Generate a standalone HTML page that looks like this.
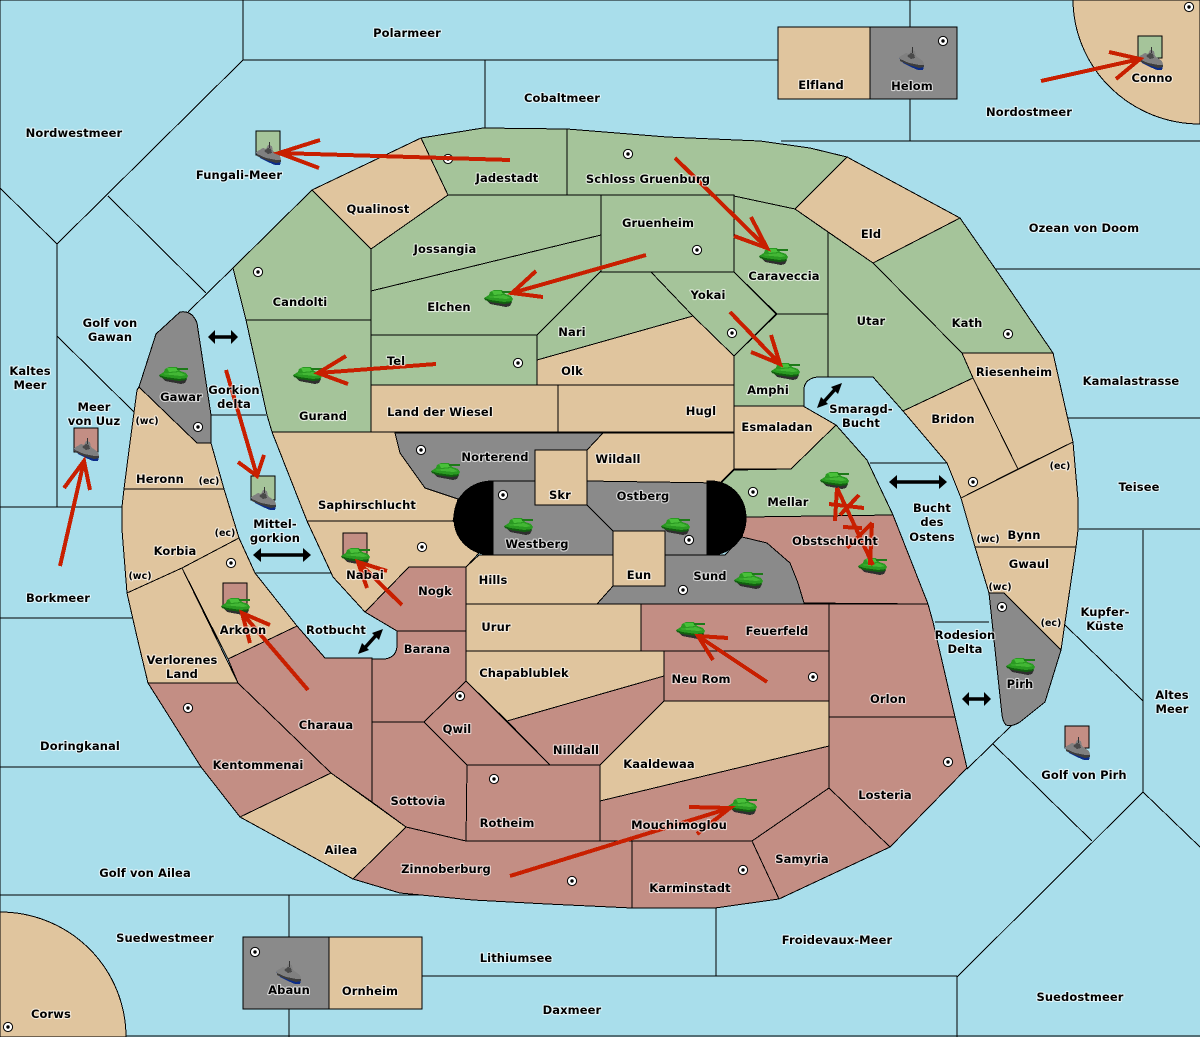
<!DOCTYPE html>
<html><head><meta charset="utf-8"><style>
html,body{margin:0;padding:0;background:#a9deeb}
svg{display:block}
.l polygon,.l path{stroke:#000;stroke-width:1;shape-rendering:crispEdges}
.g{fill:#a5c49a}.b{fill:#e0c59e}.r{fill:#c38e84}.k{fill:#8a8a8a}
.s line{stroke:#000;stroke-width:1;shape-rendering:crispEdges}
.t text{font-family:"DejaVu Sans","Liberation Sans",sans-serif;font-size:11.5px;font-weight:700;letter-spacing:.1px;text-anchor:middle;fill:#000;stroke:rgba(255,255,255,.65);stroke-width:2.2px;paint-order:stroke;stroke-linejoin:round}
.t .sm{font-size:9.5px;letter-spacing:0}
.a path{fill:none;stroke:#c81f00;stroke-width:4;shape-rendering:crispEdges}
.d path{fill:none;stroke:#000;stroke-width:3.5}
.d polygon{fill:#000}
</style></head><body>
<svg width="1200" height="1037" viewBox="0 0 1200 1037" xmlns="http://www.w3.org/2000/svg">
<defs>
<g id="tank" shape-rendering="crispEdges">
<polygon points="1,10 6,15 22,18 26,17 28,13 20,10" fill="#2f2f2f"/>
<polygon points="0,9 5,6 6,3 10,1 18,1 21,5 27,7 29,10 27,14 20,14 6,12" fill="#2a9a22"/>
<polygon points="8,2 17,2 19,5 10,6" fill="#49c03a"/>
<polygon points="3,8 20,6 27,9 22,10" fill="#43b735"/>
<polygon points="0,9 6,11 20,13 28,12 27,14 20,15 6,13 1,11" fill="#126010"/>
<rect x="18" y="2" width="11" height="2" fill="#1d7a18"/>
</g>
<g id="ship" shape-rendering="crispEdges">
<polygon points="0,11 4,16 12,20 19,23 24,23 25,19" fill="#0b2c88"/>
<polygon points="0,10 7,6 10,7 12,3 16,4 17,9 24,14 25,17 25,20 20,20 10,18 1,13" fill="#808080"/>
<polygon points="8,9 12,6 15,7 16,11 12,12" fill="#4a4a4a"/>
<polygon points="1,12 10,16 20,18 25,18 25,20 20,21 10,18 1,14" fill="#3d3d3d"/>
<rect x="13" y="0" width="1" height="6" fill="#333"/>
</g>
<g id="sc"><circle r="4.6" fill="#fff" stroke="#000" stroke-width="1"/><circle r="1.7" fill="#000"/></g>
</defs>
<rect width="1200" height="1037" fill="#a9deeb"/>
<g class="s">
<line x1="0" y1="0" x2="1200" y2="0"/><line x1="0" y1="0" x2="0" y2="1037"/><line x1="0" y1="1036" x2="1200" y2="1036"/>
<line x1="243" y1="0" x2="243" y2="60"/><line x1="243" y1="60" x2="778" y2="60"/><line x1="243" y1="60" x2="57" y2="244"/>
<line x1="485" y1="60" x2="485" y2="128"/><line x1="910" y1="0" x2="910" y2="27"/><line x1="910" y1="99" x2="910" y2="141"/>
<line x1="781" y1="141" x2="1200" y2="141"/><line x1="0" y1="188" x2="57" y2="244"/><line x1="57" y1="244" x2="57" y2="507"/>
<line x1="57" y1="336" x2="135" y2="413"/><line x1="108" y1="196" x2="206" y2="293"/><line x1="233" y1="268" x2="188" y2="312"/>
<line x1="211" y1="415" x2="266" y2="415"/><line x1="255" y1="573" x2="331" y2="573"/>
<line x1="0" y1="507" x2="122" y2="507"/><line x1="0" y1="618" x2="132" y2="618"/><line x1="0" y1="767" x2="201" y2="767"/><line x1="0" y1="895" x2="419" y2="895"/>
<line x1="289" y1="895" x2="289" y2="937"/><line x1="289" y1="1009" x2="289" y2="1037"/>
<line x1="422" y1="976" x2="957" y2="976"/><line x1="716" y1="908" x2="716" y2="976"/><line x1="957" y1="976" x2="957" y2="1037"/>
<line x1="957" y1="977" x2="1143" y2="792"/><line x1="993" y1="744" x2="1092" y2="841"/><line x1="967" y1="769" x2="1012" y2="725"/>
<line x1="1143" y1="530" x2="1143" y2="792"/><line x1="1143" y1="792" x2="1200" y2="847"/><line x1="1065" y1="625" x2="1143" y2="701"/>
<line x1="995" y1="269" x2="1200" y2="269"/><line x1="1068" y1="418" x2="1200" y2="418"/><line x1="1079" y1="529" x2="1200" y2="529"/>
<line x1="870" y1="463" x2="947" y2="463"/><line x1="935" y1="622" x2="989" y2="622"/>
</g>
<g class="l">
<path class="b" d="M1073 0A127 125 0 0 0 1200 124V0Z"/>
<path class="b" d="M0 912A126 125 0 0 1 126 1037H0Z"/>
<polygon class="b" points="778,27 870,27 870,99 778,99"/>
<polygon class="k" points="870,27 957,27 957,99 870,99"/>
<polygon class="k" points="243,937 329,937 329,1009 243,1009"/>
<polygon class="b" points="329,937 422,937 422,1009 329,1009"/>
<polygon class="g" points="233,268 312,190 371,249 371,320 246,320"/>
<polygon class="g" points="246,320 371,320 371,432 272,432 267,415"/>
<polygon class="b" points="312,190 421,138 448,195 371,249"/>
<polygon class="g" points="421,138 483,128 567,129 567,195 448,195"/>
<polygon class="g" points="567,129 667,137 760,141 810,148 847,157 795,209 734,196 734,195 567,195"/>
<polygon class="b" points="847,157 960,218 873,263 795,209"/>
<polygon class="g" points="873,263 960,218 1010,290 1053,353 962,353"/>
<polygon class="g" points="828,232 873,263 962,353 973,378 903,411 873,377 828,377"/>
<polygon class="b" points="962,353 1053,353 1073,442 1018,469 973,378"/>
<polygon class="b" points="973,378 1018,469 961,498 947,463 903,411"/>
<polygon class="b" points="961,498 1073,442 1078,500 1078,530 1076,547 975,547"/>
<polygon class="b" points="975,547 1076,547 1061,650 1004,593 989,593"/>
<path class="k" d="M989 593H1004L1061 650L1045 702L1020 722Q1012 727 1006 725Q1003 722 1002 715Z"/>
<path class="k" d="M156 334L180 312Q192 310 197 323L211 415V443H197L139 387Z"/>
<polygon class="b" points="139,387 197,443 211,443 224,489 124,489 129,450 133,420 137,390"/>
<polygon class="b" points="124,489 224,489 239,538 182,568 127,593 122,530 122,507"/>
<polygon class="b" points="127,593 182,568 238,683 148,683 137,637"/>
<polygon class="b" points="182,568 239,538 255,573 297,626 228,659"/>
<path class="r" d="M228 659L297 626L325 658H372V802L331 773L238 683Z"/>
<polygon class="r" points="148,683 238,683 331,773 240,817 201,767"/>
<polygon class="b" points="331,773 406,827 353,879 240,817"/>
<polygon class="r" points="372,722 424,722 467,765 466,841 406,827 372,802"/>
<path class="r" d="M397 631H466V681L424 722H372V659H385Q397 657 397 645Z"/>
<polygon class="r" points="365,612 409,567 466,567 466,631 397,631"/>
<polygon class="b" points="307,521 453,521 479,553 466,567 409,567 365,612 333,577"/>
<polygon class="b" points="272,432 395,432 400,453 425,488 458,499 453,521 307,521"/>
<polygon class="k" points="395,433 603,433 587,450 535,450 535,481 493,481 458,499 425,488 400,453"/>
<polygon class="k" points="493,481 535,481 535,505 587,505 613,531 613,555 493,555"/>
<polygon class="k" points="587,481 707,481 707,555 665,555 665,531 613,531 587,505"/>
<polygon class="b" points="535,450 587,450 587,505 535,505"/>
<path class="k" d="M664 555H725L742 537Q757 540 767 543Q782 551 790 563Q798 574 804 603V604H597L613 586H664Z"/>
<polygon class="b" points="613,531 665,531 665,586 613,586"/>
<polygon class="b" points="466,567 479,555 613,555 613,586 597,604 466,604"/>
<polygon class="b" points="466,604 641,604 641,651 466,651"/>
<polygon class="r" points="641,604 829,604 829,651 641,651"/>
<polygon class="r" points="664,651 829,651 829,701 664,701"/>
<polygon class="b" points="466,651 664,651 664,676 507,721 466,681"/>
<polygon class="r" points="507,721 664,676 664,701 600,765 550,765"/>
<polygon class="r" points="466,681 550,765 467,765 424,722"/>
<polygon class="r" points="467,765 600,765 600,841 466,841"/>
<polygon class="b" points="664,701 829,701 829,746 600,801 600,765"/>
<polygon class="r" points="600,801 829,746 829,788 752,841 600,841"/>
<polygon class="r" points="829,604 928,604 933,622 955,717 829,717"/>
<polygon class="r" points="829,717 955,717 967,768 890,847 829,788"/>
<polygon class="r" points="829,788 890,847 779,899 752,841"/>
<polygon class="r" points="632,841 752,841 779,899 715,908 632,908"/>
<polygon class="r" points="406,827 466,841 632,841 632,908 547,904 473,900 400,893 353,879"/>
<polygon class="r" points="746,517 893,515 928,604 804,603 798,583 790,563 767,543 742,537"/>
<polygon class="g" points="721,483 734,470 791,469 836,425 867,460 893,515 746,517"/>
<polygon class="b" points="734,406 803,406 836,425 791,469 734,469"/>
<path class="g" d="M734 356L777 314H828V377H817Q804 379 804 390V406H734Z"/>
<polygon class="g" points="651,272 734,272 776,314 734,356 693,316"/>
<polygon class="g" points="601,271 651,272 693,316 537,360 537,335"/>
<polygon class="b" points="537,360 693,316 734,356 734,385 537,385"/>
<polygon class="b" points="558,385 734,385 734,432 558,432"/>
<polygon class="b" points="371,385 558,385 558,432 371,432"/>
<polygon class="g" points="371,335 537,335 537,385 371,385"/>
<polygon class="g" points="371,291 601,235 601,271 537,335 371,335"/>
<polygon class="g" points="448,195 601,195 601,235 371,291 371,249"/>
<polygon class="g" points="601,195 734,195 734,272 601,272"/>
<polygon class="g" points="734,196 795,209 828,232 828,314 777,314 734,272"/>
<polygon class="b" points="603,433 734,433 734,469 720,483 587,481 587,450"/>
<path style="fill:#000" d="M493 481C470 481 454 497 454 518C454 539 470 555 493 555Z"/>
<path style="fill:#000" d="M707 481H713C733 483 746 499 746 518C746 537 733 553 713 555H707Z"/>
</g>
<g>
<use href="#sc" x="448" y="159"/><use href="#sc" x="628" y="154"/><use href="#sc" x="697" y="250"/><use href="#sc" x="258" y="272"/>
<use href="#sc" x="518" y="363"/><use href="#sc" x="732" y="333"/><use href="#sc" x="1008" y="334"/><use href="#sc" x="973" y="482"/>
<use href="#sc" x="1002" y="607"/><use href="#sc" x="948" y="762"/><use href="#sc" x="813" y="677"/><use href="#sc" x="753" y="492"/>
<use href="#sc" x="421" y="450"/><use href="#sc" x="503" y="495"/><use href="#sc" x="689" y="540"/><use href="#sc" x="683" y="590"/>
<use href="#sc" x="422" y="547"/><use href="#sc" x="231" y="563"/><use href="#sc" x="198" y="427"/><use href="#sc" x="188" y="708"/>
<use href="#sc" x="460" y="696"/><use href="#sc" x="494" y="779"/><use href="#sc" x="572" y="881"/><use href="#sc" x="743" y="870"/>
<use href="#sc" x="943" y="41"/><use href="#sc" x="1189" y="7"/><use href="#sc" x="8" y="1027"/><use href="#sc" x="255" y="952"/>
</g>
<g stroke="#000" stroke-width="1" shape-rendering="crispEdges">
<rect x="256" y="131" width="24" height="24" fill="#a5c49a"/>
<rect x="74" y="428" width="24" height="24" fill="#c38e84"/>
<rect x="251" y="476" width="24" height="24" fill="#a5c49a"/>
<rect x="1138" y="36" width="24" height="22" fill="#a5c49a"/>
<rect x="1065" y="726" width="24" height="22" fill="#c38e84"/>
<rect x="343" y="533" width="24" height="24" fill="#c38e84"/>
<rect x="223" y="583" width="24" height="24" fill="#c38e84"/>
</g>
<g>
<use href="#ship" x="256" y="142"/><use href="#ship" x="74" y="438"/><use href="#ship" x="251" y="487"/><use href="#ship" x="1138" y="47"/>
<use href="#ship" x="1065" y="737"/><use href="#ship" x="899" y="47"/><use href="#ship" x="276" y="961"/>
<use href="#tank" x="159" y="366"/><use href="#tank" x="293" y="366"/><use href="#tank" x="484" y="289"/><use href="#tank" x="759" y="247"/>
<use href="#tank" x="771" y="362"/><use href="#tank" x="431" y="462"/><use href="#tank" x="504" y="517"/><use href="#tank" x="661" y="517"/>
<use href="#tank" x="734" y="571"/><use href="#tank" x="820" y="471"/><use href="#tank" x="858" y="557"/><use href="#tank" x="676" y="621"/>
<use href="#tank" x="728" y="797"/><use href="#tank" x="1006" y="657"/><use href="#tank" x="341" y="547"/><use href="#tank" x="221" y="597"/>
</g>
<g class="a">
<path d="M510 160L279 153M320 140L279 153L319 168"/>
<path d="M675 158L767 248M751 217L767 248L734 236"/>
<path d="M646 255L512 293M536 271L512 293L543 297"/>
<path d="M730 312L780 364M771 335L780 364L751 352"/>
<path d="M436 364L318 373M346 356L318 373L348 384"/>
<path d="M226 370L257 476M238 462L257 476L264 455"/>
<path d="M60 566L84 461M64 488L84 461L90 490"/>
<path d="M1041 81L1140 59M1109 52L1140 59L1116 79"/>
<path d="M402 605L358 562M387 571L358 562L367 588"/>
<path d="M308 690L242 613M270 625L242 613L250 643"/>
<path d="M767 682L698 636M728 638L698 636L713 660"/>
<path d="M510 876L730 808M689 807L730 808L697 834"/>
<path d="M837 488L873 565M829 504L864 508M837 488L835 521M859 495L840 515M872 523L870 565M843 527L862 528M847 548L872 523"/>
</g>
<g class="d">
<path d="M214 337H232"/><polygon points="208,337 215,330 215,344"/><polygon points="238,337 231,330 231,344"/>
<path d="M895 482H941"/><polygon points="889,482 897,475 897,489"/><polygon points="947,482 939,475 939,489"/>
<path d="M259 555H305"/><polygon points="253,555 261,548 261,562"/><polygon points="311,555 303,548 303,562"/>
<path d="M362 651L379 632"/><polygon points="358,654 362,643 369,650"/><polygon points="383,629 379,640 372,633"/>
<path d="M821 405L838 386"/><polygon points="817,408 821,397 828,404"/><polygon points="842,383 838,394 831,387"/>
<path d="M968 699H985"/><polygon points="962,699 969,692 969,706"/><polygon points="991,699 984,692 984,706"/>
</g>
<g class="t">
<text x="407" y="37">Polarmeer</text><text x="562" y="102">Cobaltmeer</text><text x="74" y="137">Nordwestmeer</text>
<text x="821" y="89">Elfland</text><text x="912" y="90">Helom</text><text x="1029" y="116">Nordostmeer</text><text x="1152" y="82">Conno</text>
<text x="239" y="179">Fungali-Meer</text><text x="507" y="182">Jadestadt</text><text x="648" y="183">Schloss Gruenburg</text><text x="378" y="213">Qualinost</text>
<text x="658" y="227">Gruenheim</text><text x="871" y="238">Eld</text><text x="1084" y="232">Ozean von Doom</text><text x="445" y="253">Jossangia</text>
<text x="784" y="280">Caraveccia</text><text x="708" y="299">Yokai</text><text x="300" y="306">Candolti</text><text x="449" y="311">Elchen</text>
<text x="572" y="336">Nari</text><text x="871" y="325">Utar</text><text x="967" y="327">Kath</text>
<text x="110" y="327">Golf von</text><text x="110" y="341">Gawan</text><text x="30" y="375">Kaltes</text><text x="30" y="389">Meer</text>
<text x="396" y="365">Tel</text><text x="572" y="375">Olk</text><text x="181" y="401">Gawar</text><text x="234" y="394">Gorkion</text><text x="234" y="408">delta</text>
<text x="1014" y="376">Riesenheim</text><text x="1131" y="385">Kamalastrasse</text><text x="94" y="411">Meer</text><text x="94" y="425">von Uuz</text>
<text x="768" y="394">Amphi</text><text x="861" y="413">Smaragd-</text><text x="861" y="427">Bucht</text><text x="953" y="423">Bridon</text>
<text x="440" y="416">Land der Wiesel</text><text x="701" y="415">Hugl</text><text x="323" y="420">Gurand</text><text x="777" y="431">Esmaladan</text>
<text class="sm" x="147" y="424">(wc)</text><text x="495" y="461">Norterend</text><text x="618" y="463">Wildall</text><text x="160" y="483">Heronn</text>
<text class="sm" x="209" y="484">(ec)</text><text x="560" y="499">Skr</text><text x="643" y="500">Ostberg</text><text x="788" y="506">Mellar</text>
<text x="1139" y="491">Teisee</text><text x="367" y="509">Saphirschlucht</text><text class="sm" x="1060" y="469">(ec)</text>
<text x="932" y="512">Bucht</text><text x="932" y="526">des</text><text x="932" y="541">Ostens</text>
<text x="275" y="528">Mittel-</text><text x="275" y="542">gorkion</text><text x="537" y="548">Westberg</text><text class="sm" x="225" y="536">(ec)</text>
<text class="sm" x="988" y="542">(wc)</text><text x="1024" y="539">Bynn</text><text x="835" y="545">Obstschlucht</text><text x="175" y="555">Korbia</text>
<text x="1029" y="568">Gwaul</text><text x="365" y="579">Nabai</text><text x="710" y="580">Sund</text><text x="639" y="579">Eun</text>
<text class="sm" x="140" y="579">(wc)</text><text class="sm" x="1000" y="590">(wc)</text><text x="493" y="584">Hills</text><text x="435" y="595">Nogk</text>
<text x="58" y="602">Borkmeer</text><text x="1105" y="616">Kupfer-</text><text x="1105" y="630">Küste</text><text class="sm" x="1051" y="626">(ec)</text>
<text x="496" y="631">Urur</text><text x="336" y="634">Rotbucht</text><text x="777" y="635">Feuerfeld</text><text x="243" y="634">Arkoon</text>
<text x="965" y="639">Rodesion</text><text x="965" y="653">Delta</text><text x="427" y="653">Barana</text><text x="182" y="664">Verlorenes</text><text x="182" y="678">Land</text>
<text x="524" y="677">Chapablublek</text><text x="701" y="683">Neu Rom</text><text x="1020" y="688">Pirh</text><text x="1172" y="699">Altes</text><text x="1172" y="713">Meer</text>
<text x="888" y="703">Orlon</text><text x="326" y="729">Charaua</text><text x="457" y="733">Qwil</text><text x="80" y="750">Doringkanal</text><text x="576" y="754">Nilldall</text>
<text x="659" y="768">Kaaldewaa</text><text x="258" y="769">Kentommenai</text><text x="1084" y="779">Golf von Pirh</text><text x="885" y="799">Losteria</text>
<text x="418" y="805">Sottovia</text><text x="507" y="827">Rotheim</text><text x="679" y="829">Mouchimoglou</text><text x="341" y="854">Ailea</text><text x="802" y="863">Samyria</text>
<text x="446" y="873">Zinnoberburg</text><text x="145" y="877">Golf von Ailea</text><text x="690" y="892">Karminstadt</text><text x="165" y="942">Suedwestmeer</text>
<text x="837" y="944">Froidevaux-Meer</text><text x="516" y="962">Lithiumsee</text><text x="289" y="994">Abaun</text><text x="370" y="995">Ornheim</text>
<text x="1080" y="1001">Suedostmeer</text><text x="572" y="1014">Daxmeer</text><text x="51" y="1018">Corws</text>
</g>
</svg>
</body></html>
